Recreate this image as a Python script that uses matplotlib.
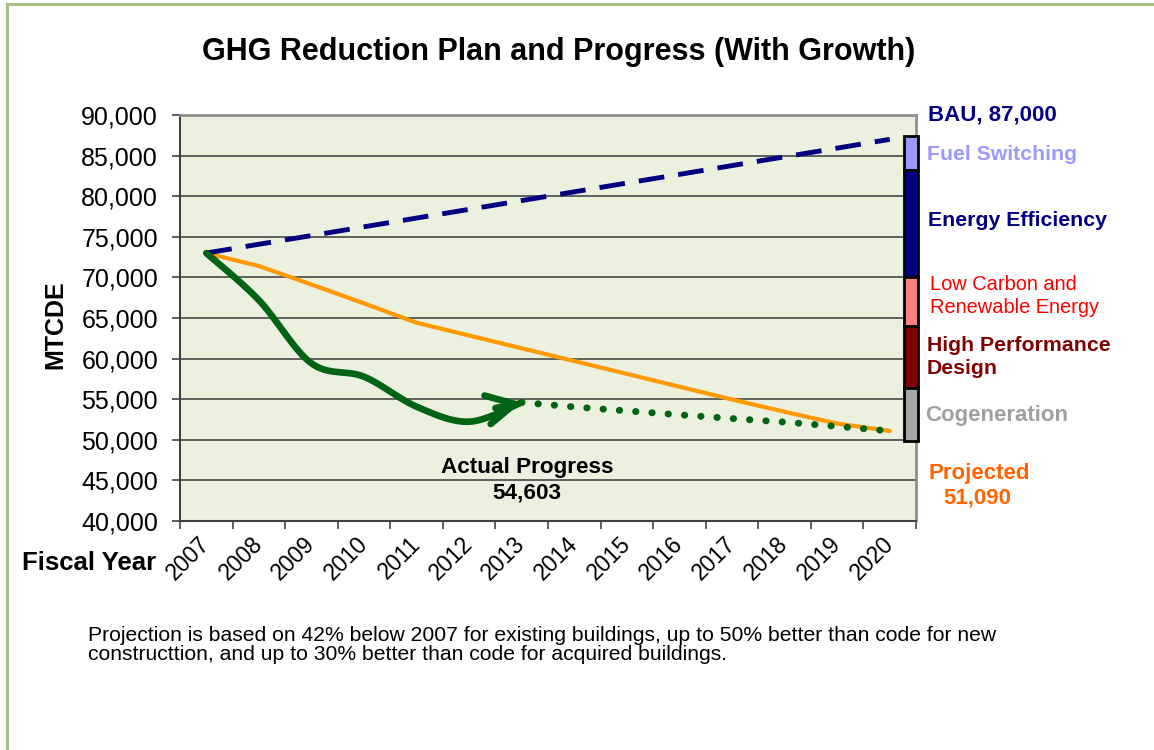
import numpy as np
import matplotlib
matplotlib.use("Agg")
import matplotlib.pyplot as plt
from matplotlib.lines import Line2D

plt.rcParams['font.family'] = ['Liberation Sans', 'DejaVu Sans']

# ---------------- data ----------------
years = ['2007', '2008', '2009', '2010', '2011', '2012', '2013',
         '2014', '2015', '2016', '2017', '2018', '2019', '2020']
bau = [73000, 74080, 75150, 76230, 77310, 78380, 79460,
       80540, 81620, 82690, 83770, 84850, 85920, 87000]
projected = [73000, 71400, 69130, 66800, 64420, 62840, 61270,
             59700, 58120, 56540, 54960, 53450, 52000, 51090]
actual = [73000, 67200, 59420, 57770, 54080, 52230, 54603]
actual_trend = [54603, 54050, 53560, 53080, 52620, 52180, 51650, 51090]

wedge_labels = ['Fuel Switching', 'Energy Efficiency', 'Low Carbon and\nRenewable Energy',
                'High Performance\nDesign', 'Cogeneration']
wedge_tops = [87400, 83200, 70100, 64000, 56350]
wedge_bottoms = [83200, 70100, 64000, 56350, 49900]
wedge_colors = ['#9999FF', '#000080', '#FF8080', '#800000', '#A6A6A6']

W, H = 1154, 750
fig = plt.figure(figsize=(W / 100, H / 100), dpi=100)


def fx(x):
    return x / W


def fy(y):
    return 1 - y / H


# outer frame (only left and top visible)
fig.add_artist(Line2D([fx(7), fx(7)], [fy(4), fy(752)], color='#ABC084', lw=2.2,
                      transform=fig.transFigure))
fig.add_artist(Line2D([fx(7), fx(1156)], [fy(4), fy(4)], color='#ABC084', lw=2.2,
                      transform=fig.transFigure))

ax = fig.add_axes([fx(180), fy(521), (916 - 180) / W, (521 - 115) / H])
ax.set_facecolor('#EBF0DF')
ax.set_xlim(-0.5, 13.5)
ax.set_ylim(40000, 90000)

yt = np.arange(40000, 90001, 5000)
ax.set_yticks(yt)
ax.set_yticklabels([f'{v:,}' for v in yt], fontsize=18)
for v in yt[1:-1]:
    ax.axhline(v, color='#555555', lw=1.3, zorder=1)

ax.tick_params(axis='y', direction='out', length=5.8, width=1.2, color='#444444', pad=10)
x = np.arange(len(years))
ax.set_xticks(x)
ax.set_xticklabels(years, rotation=45, ha='right', va='center',
                   rotation_mode='anchor', fontsize=16.5)
ax.tick_params(axis='x', length=0, pad=14)
ax.set_xticks(np.arange(-0.5, 13.6, 1), minor=True)
ax.tick_params(axis='x', which='minor', direction='out', length=5.8, width=1.2, color='#444444')

for s in ['left', 'bottom']:
    ax.spines[s].set_color('#404040')
    ax.spines[s].set_linewidth(1.5)
for s in ['top', 'right']:
    ax.spines[s].set_color('#909090')
    ax.spines[s].set_linewidth(2)

# BAU dashed line
ax.plot(x, bau, color='#000080', lw=3.5, linestyle=(0, (5.3, 2.9)), zorder=4,
        dash_capstyle='butt')

# projected line
ax.plot(x, projected, color='#FF9900', lw=3.0, zorder=3, solid_joinstyle='round',
        solid_capstyle='round')


# smoothed actual progress (Catmull-Rom rendering like a smoothed line)
def catmull(xs, ys, n=30):
    px = np.concatenate([[xs[0]], xs, [xs[-1]]]).astype(float)
    py = np.concatenate([[ys[0]], ys, [ys[-1]]]).astype(float)
    ox, oy = [], []
    for i in range(1, len(px) - 2):
        t = np.linspace(0, 1, n, endpoint=(i == len(px) - 3))
        p0x, p1x, p2x, p3x = px[i - 1:i + 3]
        p0y, p1y, p2y, p3y = py[i - 1:i + 3]
        for arr, a0, a1, a2, a3 in ((ox, p0x, p1x, p2x, p3x), (oy, p0y, p1y, p2y, p3y)):
            arr.extend(0.5 * ((2 * a1) + (-a0 + a2) * t + (2 * a0 - 5 * a1 + 4 * a2 - a3) * t ** 2
                              + (-a0 + 3 * a1 - 3 * a2 + a3) * t ** 3))
    return np.array(ox), np.array(oy)


ax_x = np.arange(len(actual))
sx, sy = catmull(ax_x, np.array(actual))
ax.plot(sx, sy, color='#006414', lw=4.8, zorder=5, solid_capstyle='round',
        solid_joinstyle='round')
ax.annotate('', xy=(sx[-1], sy[-1]), xytext=(sx[-1] - 0.5, sy[-1] - 700),
            arrowprops=dict(arrowstyle='->,head_length=2.0,head_width=1.05',
                            color='#006414', lw=4.8, shrinkA=0, shrinkB=0,
                            capstyle='round'),
            zorder=6)

# dotted trend
tx = np.arange(6, 6 + len(actual_trend))
ax.plot(tx, actual_trend, color='#006414', lw=5.0, linestyle=(0, (0.05, 2.3)),
        dash_capstyle='round', zorder=6)

# reduction wedges bar
for top, bot, c in zip(wedge_tops, wedge_bottoms, wedge_colors):
    ax.bar(13.405, top - bot, bottom=bot, width=0.27, color=c, edgecolor='black',
           lw=2, clip_on=False, zorder=7)

# texts
fig.text(fx(559), fy(52), 'GHG Reduction Plan and Progress (With Growth)', fontsize=22,
         fontweight='bold', ha='center', va='center')
fig.text(fx(55), fy(325), 'MTCDE', fontsize=18, fontweight='bold', rotation=90,
         ha='center', va='center')
fig.text(fx(22), fy(563), 'Fiscal Year', fontsize=18.5, fontweight='bold',
         ha='left', va='center')
fig.text(fx(527), fy(480), 'Actual Progress\n54,603', fontsize=16.2, fontweight='bold',
         ha='center', va='center', linespacing=1.28)

fig.text(fx(928), fy(115), 'BAU, 87,000', fontsize=16, fontweight='bold',
         color='#000080', ha='left', va='center')
fig.text(fx(927), fy(155), 'Fuel Switching', fontsize=15.3, fontweight='bold',
         color='#9999FF', ha='left', va='center')
fig.text(fx(928), fy(221), 'Energy Efficiency', fontsize=15.3, fontweight='bold',
         color='#000080', ha='left', va='center')
fig.text(fx(930), fy(296), 'Low Carbon and\nRenewable Energy', fontsize=14.4,
         color='#FF0000', ha='left', va='center', linespacing=1.22)
fig.text(fx(927), fy(357), 'High Performance\nDesign', fontsize=15.3, fontweight='bold',
         color='#800000', ha='left', va='center', linespacing=1.25)
fig.text(fx(925), fy(415), 'Cogeneration', fontsize=16, fontweight='bold',
         color='#A0A0A0', ha='left', va='center')
fig.text(fx(928), fy(474), 'Projected', fontsize=16, fontweight='bold',
         color='#FF6600', ha='left', va='center')
fig.text(fx(943), fy(498), '51,090', fontsize=16, fontweight='bold',
         color='#FF6600', ha='left', va='center')

fig.text(fx(88), fy(645), 'Projection is based on 42% below 2007 for existing buildings, up to 50% '
         'better than code for new\nconstructtion, and up to 30% better than code for acquired '
         'buildings.', fontsize=15.2, ha='left', va='center', linespacing=1.0)

fig.savefig('out.png', dpi=100)
